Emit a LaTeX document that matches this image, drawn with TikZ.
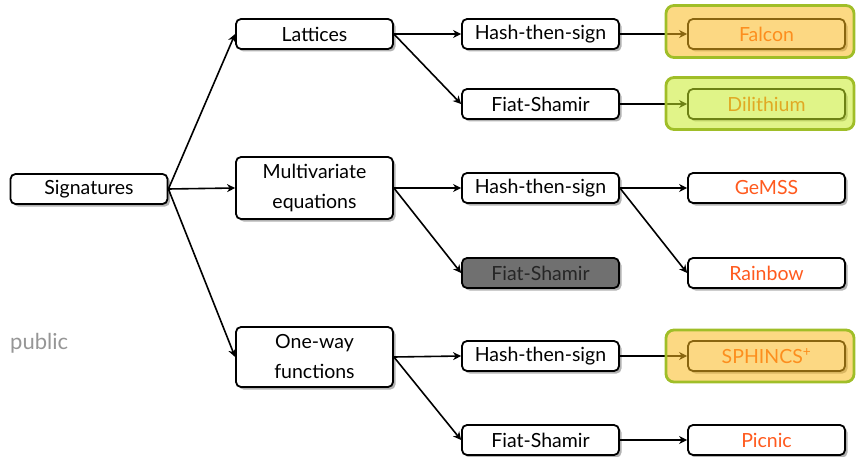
\documentclass[tikz,border=0pt]{standalone}
\usepackage{fontspec}
\setmainfont{Lato}
\usetikzlibrary{shadows,arrows.meta}
\definecolor{txtred}{RGB}{255,90,30}
\definecolor{grayfill}{RGB}{112,112,112}
\definecolor{hlorange}{RGB}{250,185,30}
\definecolor{hlgreen}{RGB}{200,235,40}
\definecolor{hlborder}{RGB}{160,190,40}
\definecolor{pubgray}{RGB}{150,150,150}
\begin{document}
\begin{tikzpicture}[x=1pt,y=-1pt,
  font=\fontsize{19.5}{30}\selectfont,
  box/.style={draw=black, line width=1.8pt, rounded corners=5pt, fill=white,
    minimum width=157pt, minimum height=30pt, inner sep=0pt, align=center,
    drop shadow={shadow xshift=2.5pt, shadow yshift=-2.5pt, opacity=0.3, fill=black}},
  arr/.style={line width=1.6pt, -{Stealth[length=8pt,width=8pt,inset=2.5pt]}},
  hl/.style={draw=hlborder, line width=2.8pt, rounded corners=8pt,
    fill opacity=0.55, minimum width=188pt, minimum height=52pt, inner sep=0pt}]
\useasboundingbox (0,0) rectangle (856,457);

\node[box] (sig) at (89,189) {Signatures};
\node[box] (lat) at (314.5,34) {Lattices};
\node[box, minimum height=62pt] (mv) at (314.5,188) {Multivariate\\equations};
\node[box, minimum height=60pt] (ow) at (314.5,357) {One-way\\functions};

\node[box] (h1) at (540.5,34) {Hash-then-sign};
\node[box] (f1) at (540.5,104) {Fiat-Shamir};
\node[box] (h2) at (540.5,188) {Hash-then-sign};
\node[box, fill=grayfill, text=black!85] (f2) at (540.5,273) {Fiat-Shamir};
\node[box] (h3) at (540.5,356) {Hash-then-sign};
\node[box] (f3) at (540.5,440) {Fiat-Shamir};

\node[box, text=txtred] (falcon) at (766.5,34) {Falcon};
\node[box, text=txtred] (dil) at (766.5,104) {Dilithium};
\node[box, text=txtred] (gemss) at (766.5,188) {GeMSS};
\node[box, text=txtred] (rainbow) at (766.5,273) {Rainbow};
\node[box, text=txtred] (sphincs) at (766.5,356) {SPHINCS\textsuperscript{+}};
\node[box, text=txtred] (picnic) at (766.5,440) {Picnic};

\node[anchor=west, text=pubgray, inner sep=0pt, font=\fontsize{22}{26}\selectfont] (pub) at (10,343) {public};

\draw[arr] (sig.east) -- (lat.west);
\draw[arr] (sig.east) -- (mv.west);
\draw[arr] (sig.east) -- (ow.west);
\draw[arr] (lat.east) -- (h1.west);
\draw[arr] (lat.east) -- (f1.west);
\draw[arr] (mv.east) -- (h2.west);
\draw[arr] (mv.east) -- (f2.west);
\draw[arr] (ow.east) -- (h3.west);
\draw[arr] (ow.east) -- (f3.west);
\draw[arr] (h1.east) -- (falcon.west);
\draw[arr] (f1.east) -- (dil.west);
\draw[arr] (h2.east) -- (gemss.west);
\draw[arr] (h2.east) -- (rainbow.west);
\draw[arr] (h3.east) -- (sphincs.west);
\draw[arr] (f3.east) -- (picnic.west);

\node[hl, fill=hlorange] (falconhl) at (760,31.5) {};
\node[hl, fill=hlgreen] (dilhl) at (760,103.5) {};
\node[hl, fill=hlorange] (sphinchl) at (760,356) {};
\end{tikzpicture}
\end{document}
